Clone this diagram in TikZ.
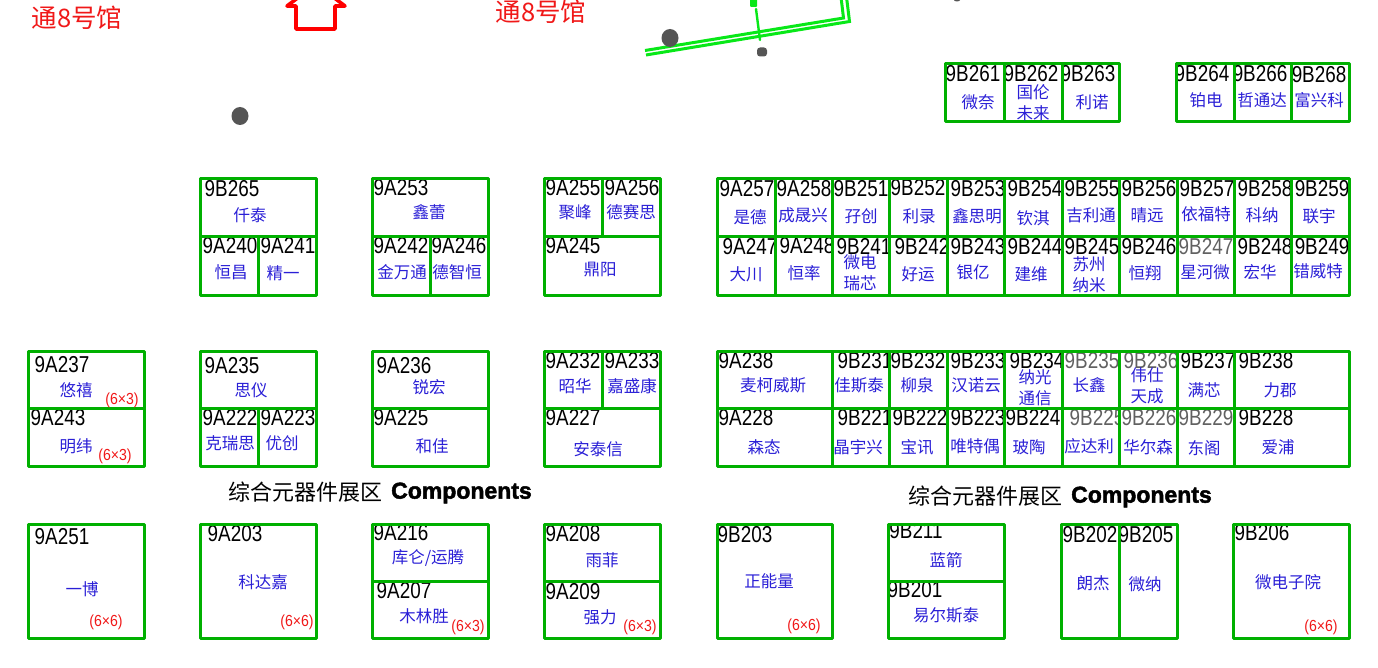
\documentclass[tikz,border=0pt]{standalone}
\usepackage{fontspec}
\newfontfamily\codefont[FakeStretch=0.82]{Liberation Sans}
\newfontfamily\sizefont[FakeStretch=0.88]{Liberation Sans}
\newfontfamily\cjkfont{Noto Sans CJK SC}
\newfontfamily\latinbold[FakeBold=2]{Liberation Sans Bold}
\definecolor{boothgreen}{HTML}{00B000}
\definecolor{namepurple}{HTML}{2A1FD6}
\definecolor{hallred}{HTML}{F01818}
\definecolor{brightgreen}{HTML}{08E818}
\definecolor{dotgrey}{HTML}{555555}
\usetikzlibrary{shapes.geometric}
\tikzset{
  x=1pt,y=-1pt,
  boothline/.style={draw=boothgreen,line width=3pt,line join=round,line cap=round},
  codelabel/.style={inner sep=0pt,font=\codefont\fontsize{23}{23}\selectfont,text=black},
  greycode/.style={codelabel,text=black!62},
  namelabel/.style={inner sep=0pt,align=center,font=\cjkfont\fontsize{16.5}{21}\selectfont,text=namepurple},
  sizelabel/.style={inner sep=0pt,font=\sizefont\fontsize{16}{16}\selectfont,text=hallred},
  halllabel/.style={inner sep=0pt,font=\cjkfont\fontsize{25.5}{26}\selectfont,text=hallred},
  zonelabel/.style={inner sep=0pt,anchor=west,font=\cjkfont\fontsize{22}{24}\selectfont,text=black},
  complabel/.style={inner sep=0pt,anchor=west,font=\latinbold\fontsize{23}{24}\selectfont},
  dot/.style={fill=dotgrey,draw=none,inner sep=0pt,ellipse,minimum width=17pt,minimum height=18pt},
  wall/.style={draw=brightgreen,line width=3pt,line join=miter},
}
% \booth[code style]{code}{x1}{y1}{x2}{y2}{code x}{code y}{name}{name x}{name y}
\newcommand{\booth}[1][codelabel]{\boothA{#1}}
\newcommand{\boothA}[6]{\def\bstyle{#1}\def\bcode{#2}\def\bxa{#3}\def\bya{#4}\def\bxb{#5}\def\byb{#6}\boothB}
\newcommand{\boothB}[5]{%
  \begin{scope}
    \clip (\bxa,\bya) rectangle (\bxb,\byb);
    \node[\bstyle] (c\bcode) at (#1,#2) {\bcode};
  \end{scope}
  \draw[boothline] (\bxa,\bya) rectangle (\bxb,\byb);
  \node[namelabel] (n\bcode) at (#4,#5) {#3};
}
\begin{document}
\begin{tikzpicture}
\useasboundingbox (0,0) rectangle (1378,668);
% Hall labels
\node[halllabel] (hallA) at (77,18) {通8号馆};
\node[halllabel] (hallB) at (541,12) {通8号馆};
\begin{scope}
\clip (0,0) rectangle (1378,668);
% Entrance arrow
\draw[red,line width=3.6pt,line join=round] (296,29) -- (335,29) -- (335,6) -- (345,6) -- (316,-16) -- (287,6) -- (296,6) -- cycle;
% Bright green wall
\draw[wall] (645,50.5) -- (843.5,18) -- (841,-3);
\draw[wall] (646,55) -- (849.5,21.5) -- (846.5,-3);
\draw[brightgreen,line width=2.4pt,line cap=round] (756,9) -- (760,40);
\fill[brightgreen,rounded corners=1pt] (750,-3) rectangle (757,7);
\fill[dotgrey] (957,0) ellipse [x radius=3pt,y radius=1.5pt];
\end{scope}
% Pillars
\node[dot] (pillarA) at (240,116) {};
\node[dot] (pillarB) at (670,38) {};
\node[fill=dotgrey,inner sep=0pt,minimum width=10pt,minimum height=9pt,rounded corners=3pt] (pillarC) at (762,52) {};
% Row 1
\booth{9B261}{945}{64}{1004}{122}{973}{74}{微奈}{978}{102}
\booth{9B262}{1004}{64}{1062}{122}{1031}{74}{国伦\\未来}{1033}{103}
\booth{9B263}{1062}{64}{1119}{122}{1088}{74}{利诺}{1092}{102}
\booth{9B264}{1176}{64}{1234}{122}{1202}{74}{铂电}{1206}{100}
\booth{9B266}{1234}{64}{1291}{122}{1260}{74}{哲通达}{1262}{100}
\booth{9B268}{1291}{64}{1349}{122}{1319}{75}{富兴科}{1319}{100}
% Row 2 top
\booth{9B265}{200}{179}{316}{237}{232}{189}{仟泰}{250}{215}
\booth{9A253}{372}{179}{488}{237}{401}{188}{鑫蕾}{429}{212}
\booth{9A255}{544}{179}{602}{237}{573}{188}{聚峰}{575}{212}
\booth{9A256}{602}{179}{660}{237}{632}{188}{德赛思}{631}{212}
\booth{9A257}{717}{179}{775}{237}{747}{189}{是德}{750}{217}
\booth{9A258}{775}{179}{832}{237}{804}{189}{成晟兴}{803}{215}
\booth{9B251}{832}{179}{889}{237}{861}{189}{孖创}{861}{216}
\booth{9B252}{889}{179}{947}{237}{918}{188}{利录}{919}{216}
\booth{9B253}{947}{179}{1004}{237}{978}{189}{鑫思明}{977}{216}
\booth{9B254}{1004}{179}{1062}{237}{1035}{189}{钦淇}{1033}{218}
\booth{9B255}{1062}{179}{1119}{237}{1092}{189}{吉利通}{1091}{215}
\booth{9B256}{1119}{179}{1177}{237}{1149}{189}{晴远}{1147}{215}
\booth{9B257}{1177}{179}{1234}{237}{1207}{189}{依福特}{1206}{214}
\booth{9B258}{1234}{179}{1291}{237}{1265}{189}{科纳}{1262}{215}
\booth{9B259}{1291}{179}{1349}{237}{1322}{189}{联宇}{1319}{216}
% Row 2 bottom
\booth{9A240}{200}{237}{258}{295}{230}{246}{恒昌}{231}{272}
\booth{9A241}{258}{237}{316}{295}{288}{246}{精一}{283}{273}
\booth{9A242}{372}{237}{430}{295}{401}{246}{金万通}{402}{272}
\booth{9A246}{430}{237}{488}{295}{459}{246}{德智恒}{457}{272}
\booth{9A245}{544}{237}{660}{295}{573}{246}{鼎阳}{600}{270}
\booth{9A247}{717}{237}{775}{295}{750}{247}{大川}{746}{274}
\booth{9A248}{775}{237}{832}{295}{807}{246}{恒率}{804}{273}
\booth{9B241}{832}{237}{889}{295}{864}{247}{微电\\瑞芯}{860}{273}
\booth{9B242}{889}{237}{947}{295}{922}{247}{好运}{918}{274}
\booth{9B243}{947}{237}{1004}{295}{978}{247}{银亿}{973}{272}
\booth{9B244}{1004}{237}{1062}{295}{1035}{247}{建维}{1031}{274}
\booth{9B245}{1062}{237}{1119}{295}{1092}{247}{苏州\\纳米}{1089}{275}
\booth{9B246}{1119}{237}{1177}{295}{1149}{247}{恒翔}{1145}{273}
\booth[greycode]{9B247}{1177}{237}{1234}{295}{1206}{247}{星河微}{1205}{272}
\booth{9B248}{1234}{237}{1291}{295}{1265}{247}{宏华}{1260}{272}
\booth{9B249}{1291}{237}{1349}{295}{1322}{247}{错威特}{1318}{271}
% Row 3 top
\booth{9A237}{28}{351}{144}{408}{62}{365}{悠禧}{76}{390}
\booth{9A235}{200}{351}{316}{408}{232}{366}{思仪}{251}{390}
\booth{9A236}{372}{351}{488}{408}{404}{366}{锐宏}{429}{387}
\booth{9A232}{544}{351}{602}{408}{573}{361}{昭华}{575}{386}
\booth{9A233}{602}{351}{660}{408}{632}{361}{嘉盛康}{632}{386}
\booth{9A238}{717}{351}{832}{408}{746}{361}{麦柯威斯}{773}{385}
\booth{9B231}{832}{351}{889}{408}{865}{361}{佳斯泰}{859}{385}
\booth{9B232}{889}{351}{947}{408}{918}{361}{柳泉}{917}{385}
\booth{9B233}{947}{351}{1004}{408}{978}{361}{汉诺云}{976}{385}
\booth{9B234}{1004}{351}{1062}{408}{1037}{361}{纳光\\通信}{1035}{388}
\booth[greycode]{9B235}{1062}{351}{1119}{408}{1092}{361}{长鑫}{1089}{385}
\booth[greycode]{9B236}{1119}{351}{1177}{408}{1151}{361}{伟仕\\天成}{1147}{386}
\booth{9B237}{1177}{351}{1234}{408}{1208}{361}{满芯}{1204}{390}
\booth{9B238}{1234}{351}{1349}{408}{1266}{361}{力郡}{1280}{390}
% Row 3 bottom
\booth{9A243}{28}{408}{144}{466}{58}{418}{明纬}{76}{446}
\booth{9A222}{200}{408}{258}{466}{230}{418}{克瑞思}{230}{443}
\booth{9A223}{258}{408}{316}{466}{288}{418}{优创}{282}{443}
\booth{9A225}{372}{408}{488}{466}{401}{418}{和佳}{432}{446}
\booth{9A227}{544}{408}{660}{466}{573}{418}{安泰信}{598}{449}
\booth{9A228}{717}{408}{832}{466}{746}{418}{森态}{764}{447}
\booth{9B221}{832}{408}{889}{466}{865}{418}{晶宇兴}{858}{447}
\booth{9B222}{889}{408}{947}{466}{920}{418}{宝讯}{917}{447}
\booth{9B223}{947}{408}{1004}{466}{978}{418}{唯特偶}{975}{446}
\booth{9B224}{1004}{408}{1062}{466}{1033}{418}{玻陶}{1029}{447}
\booth[greycode]{9B225}{1062}{408}{1119}{466}{1097}{418}{应达利}{1089}{446}
\booth[greycode]{9B226}{1119}{408}{1177}{466}{1149}{418}{华尔森}{1148}{447}
\booth[greycode]{9B229}{1177}{408}{1234}{466}{1206}{418}{东阁}{1204}{448}
\booth{9B228}{1234}{408}{1349}{466}{1266}{418}{爱浦}{1278}{447}
% Row 4
\booth{9A251}{28}{524}{144}{638}{62}{537}{一博}{82}{589}
\booth{9A203}{200}{524}{316}{638}{235}{534}{科达嘉}{263}{582}
\booth{9A216}{372}{524}{488}{581}{401}{533}{库仑/运腾}{428}{558}
\booth{9A207}{372}{581}{488}{638}{404}{591}{木林胜}{424}{616}
\booth{9A208}{544}{524}{660}{581}{573}{534}{雨菲}{602}{560}
\booth{9A209}{544}{581}{660}{638}{573}{592}{强力}{600}{617}
\booth{9B203}{717}{524}{832}{638}{745}{535}{正能量}{769}{581}
\booth{9B211}{888}{524}{1004}{581}{916}{531}{蓝箭}{946}{560}
\booth{9B201}{888}{581}{1004}{638}{915}{590}{易尔斯泰}{946}{615}
\booth{9B202}{1061}{524}{1119}{638}{1090}{535}{朗杰}{1093}{583}
\booth{9B205}{1119}{524}{1177}{638}{1146}{535}{微纳}{1145}{584}
\booth{9B206}{1233}{524}{1349}{638}{1262}{533}{微电子院}{1288}{582}
% Sizes
\node[sizelabel] (s1) at (122,400) {(6×3)};
\node[sizelabel] (s2) at (115,456) {(6×3)};
\node[sizelabel] (s3) at (106,622) {(6×6)};
\node[sizelabel] (s4) at (297,622) {(6×6)};
\node[sizelabel] (s5) at (468,627) {(6×3)};
\node[sizelabel] (s6) at (640,627) {(6×3)};
\node[sizelabel] (s7) at (804,626) {(6×6)};
\node[sizelabel] (s8) at (1321,627) {(6×6)};
% Zone titles
\node[zonelabel] (zoneA) at (228,492) {综合元器件展区};
\node[complabel] (compA) at (391,493) {Components};
\node[zonelabel] (zoneB) at (908,496) {综合元器件展区};
\node[complabel] (compB) at (1071,497) {Components};
\end{tikzpicture}
\end{document}
